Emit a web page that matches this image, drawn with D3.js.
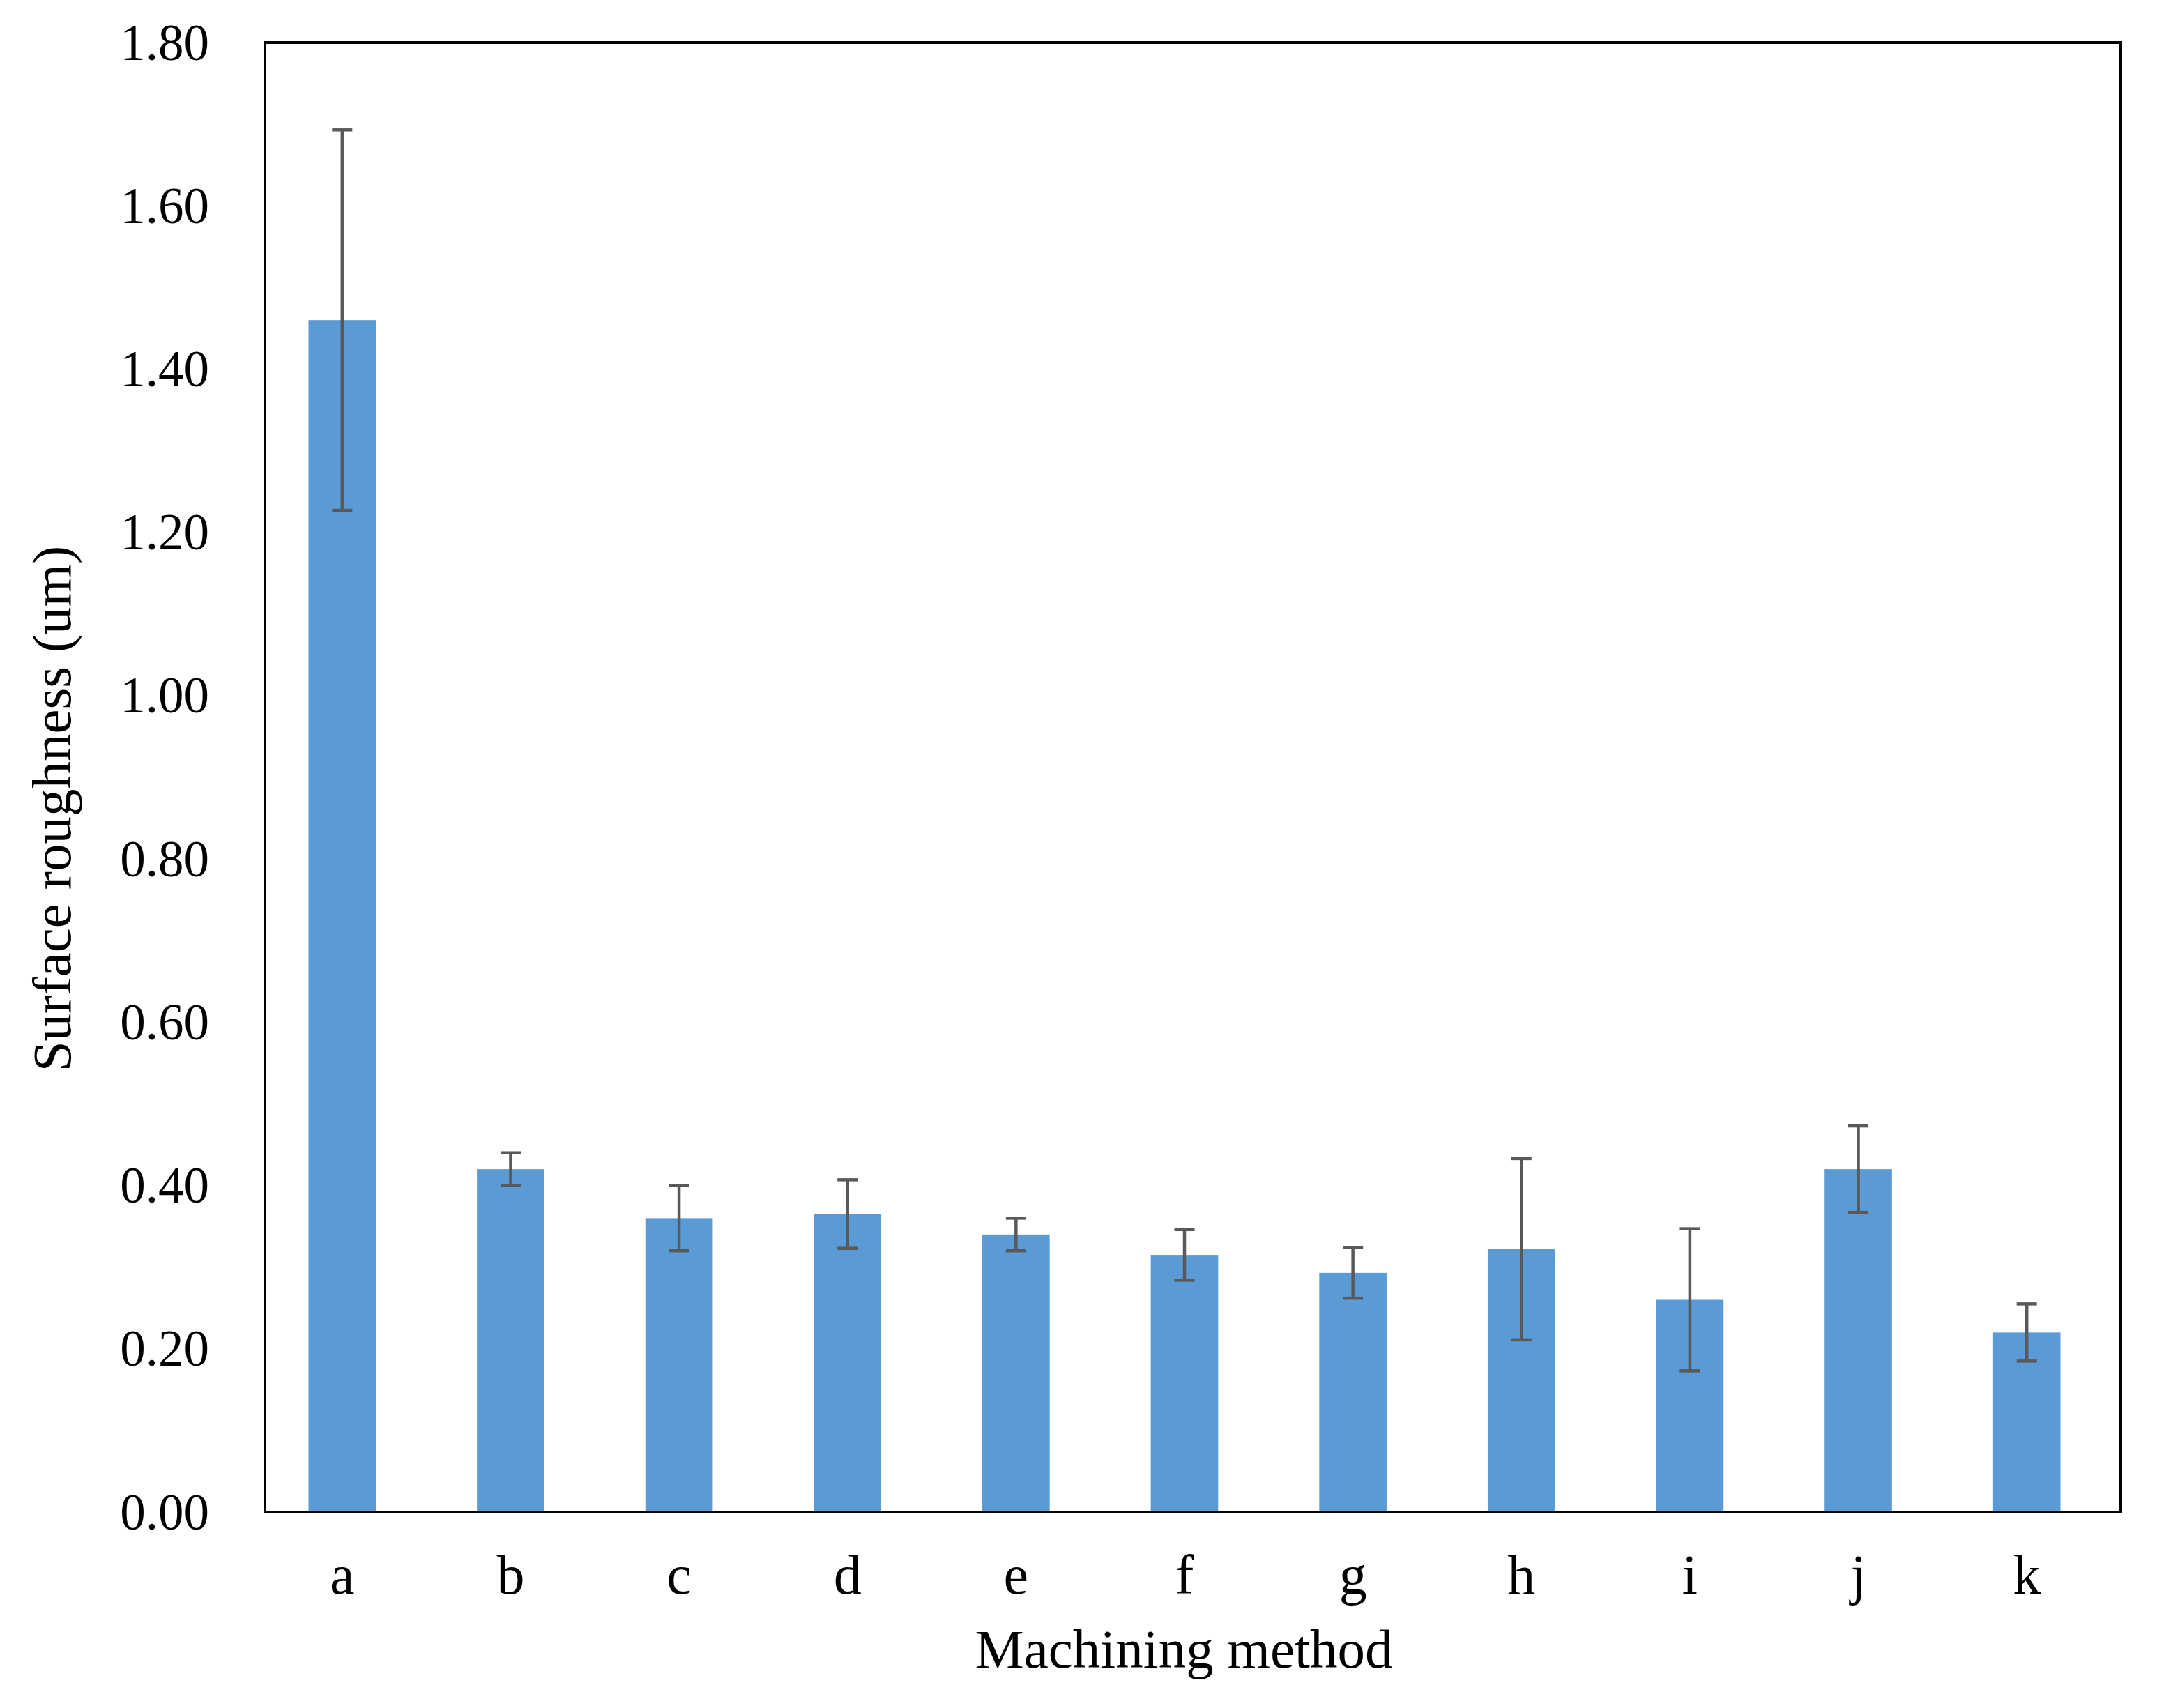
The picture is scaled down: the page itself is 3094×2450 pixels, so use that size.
<!DOCTYPE html>
<html>
<head>
<meta charset="utf-8">
<script src="https://cdn.jsdelivr.net/npm/d3@7"></script>
<style>
  body { margin: 0; background: #fff; }
  text { font-family: "Liberation Serif", "Times New Roman", serif; fill: #000; }
</style>
</head>
<body>
<div id="chart"></div>
<script>
var methods = ['a', 'b', 'c', 'd', 'e', 'f', 'g', 'h', 'i', 'j', 'k'];
var roughness = [1.46, 0.42, 0.36, 0.365, 0.34, 0.315, 0.293, 0.322, 0.26, 0.42, 0.22];
var roughnessErr = [0.233, 0.02, 0.04, 0.042, 0.02, 0.031, 0.031, 0.111, 0.087, 0.053, 0.035];
var yTicks = [0, 0.2, 0.4, 0.6, 0.8, 1.0, 1.2, 1.4, 1.6, 1.8];

var fullWidth = 3094;
var fullHeight = 2450;
var plot = {left: 380, right: 3042, top: 61, bottom: 2169};

var data = methods.map(function(m, i) {
  return {method: m, value: roughness[i], err: roughnessErr[i]};
});

var x = d3.scaleBand().domain(methods).range([370, 3028])
  .paddingInner(0.6).paddingOuter(0.3);
var y = d3.scaleLinear().domain([0, 1.8]).range([plot.bottom, plot.top]);

var svg = d3.select("#chart")
  .append("svg")
    .attr("width", fullWidth)
    .attr("height", fullHeight);

// bars
svg.selectAll(".bar")
  .data(data)
  .enter().append("rect")
    .attr("class", "bar")
    .attr("x", function(d) { return x(d.method); })
    .attr("y", function(d) { return y(d.value); })
    .attr("width", x.bandwidth())
    .attr("height", function(d) { return plot.bottom - y(d.value); })
    .attr("fill", "#5B9BD5");

// error bars
var eb = svg.selectAll(".err")
  .data(data)
  .enter().append("g")
    .attr("class", "err")
    .attr("stroke", "#595959")
    .attr("stroke-width", 4.5);

eb.append("line")
  .attr("x1", function(d) { return x(d.method) + x.bandwidth() / 2; })
  .attr("x2", function(d) { return x(d.method) + x.bandwidth() / 2; })
  .attr("y1", function(d) { return y(d.value + d.err); })
  .attr("y2", function(d) { return y(d.value - d.err); });

[1, -1].forEach(function(s) {
  eb.append("line")
    .attr("x1", function(d) { return x(d.method) + x.bandwidth() / 2 - 14.5; })
    .attr("x2", function(d) { return x(d.method) + x.bandwidth() / 2 + 14.5; })
    .attr("y1", function(d) { return y(d.value + s * d.err); })
    .attr("y2", function(d) { return y(d.value + s * d.err); });
});

// frame
svg.append("rect")
  .attr("x", plot.left)
  .attr("y", plot.top)
  .attr("width", plot.right - plot.left)
  .attr("height", plot.bottom - plot.top)
  .attr("fill", "none")
  .attr("stroke", "#000")
  .attr("stroke-width", 4);

// y axis
var yAxis = svg.append("g")
  .attr("class", "axis axis--y")
  .attr("transform", "translate(" + plot.left + ",0)")
  .call(d3.axisLeft(y).tickValues(yTicks).tickSize(0).tickPadding(80)
    .tickFormat(function(d) { return d.toFixed(2); }));
yAxis.select(".domain").remove();
yAxis.selectAll("text")
  .attr("font-family", null)
  .style("font-size", "73px")
  .attr("dy", "0.33em");

// x axis
var xAxis = svg.append("g")
  .attr("class", "axis axis--x")
  .attr("transform", "translate(0," + plot.bottom + ")")
  .call(d3.axisBottom(x).tickSize(0).tickPadding(60));
xAxis.select(".domain").remove();
xAxis.selectAll("text")
  .style("font-size", "80px")
  .attr("dy", "0.71em");

// axis titles
svg.append("text")
  .attr("x", 1698)
  .attr("y", 2392)
  .attr("text-anchor", "middle")
  .style("font-size", "79px")
  .text("Machining method");

svg.append("text")
  .attr("transform", "translate(101,1160) rotate(-90)")
  .attr("text-anchor", "middle")
  .style("font-size", "79px")
  .text("Surface roughness (um)");
</script>
</body>
</html>
